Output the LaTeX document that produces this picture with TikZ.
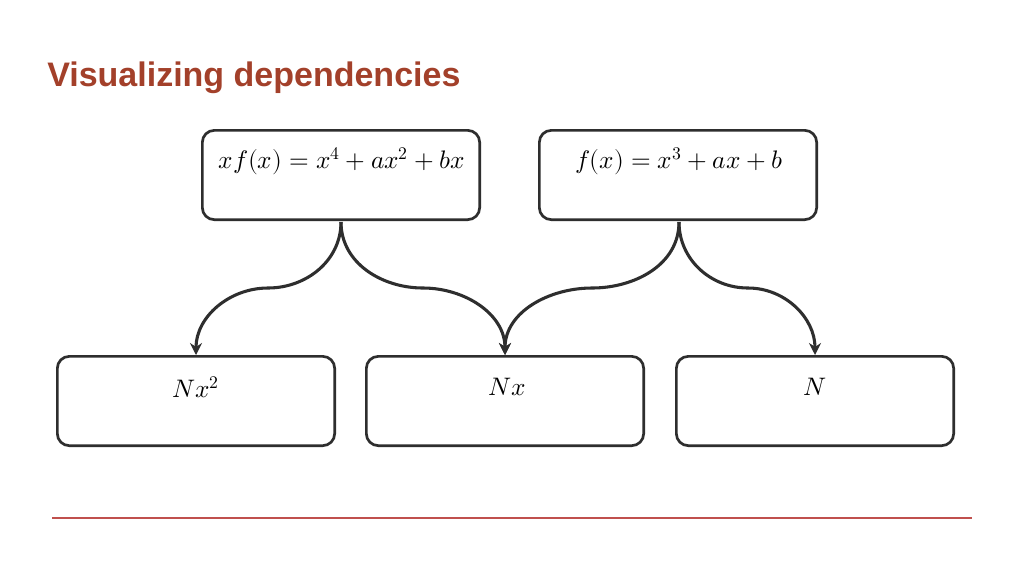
\documentclass[tikz,border=0pt]{standalone}
\usetikzlibrary{arrows.meta}
\usepackage{fontspec}
\setmainfont{Liberation Sans}
\usepackage{unicode-math}
\setmathfont{Latin Modern Math}
\definecolor{titlered}{HTML}{A3402A}
\definecolor{dk}{HTML}{2E2E2E}
\definecolor{rule}{HTML}{C0504D}
\begin{document}
\begin{tikzpicture}[x=0.75pt,y=-0.75pt,
  box/.style={draw=dk,line width=2pt,rounded corners=9pt,minimum width=208pt,minimum height=67pt,anchor=north west,inner sep=0pt},
  lbl/.style={font=\fontsize{19}{22}\selectfont},
  conn/.style={draw=dk,line width=2.3pt,-{Stealth[length=9pt,width=9pt]}}]
\useasboundingbox (0,0) rectangle (1024,576);
\fill[white] (0,0) rectangle (1024,576);
\node[anchor=west,font=\bfseries\fontsize{25.5}{30}\selectfont,text=titlered,inner sep=0pt] (title) at (47,78) {Visualizing dependencies};
\node[box] (t1) at (201,129) {};
\node[box] (t2) at (538,129) {};
\node[box] (b1) at (56,355) {};
\node[box] (b2) at (365,355) {};
\node[box] (b3) at (675,355) {};
\node[lbl] at (342,161) {$xf(x)=x^4+ax^2+bx$};
\node[lbl] at (679,161) {$f(x)=x^3+ax+b$};
\node[lbl] at (196,387) {$Nx^2$};
\node[lbl] at (507,387) {$Nx$};
\node[lbl] at (815,387) {$N$};
\coordinate (s1) at (341,222);
\coordinate (s2) at (679,222);
\draw[conn] (s1) to[out=-90,in=0] (268,288) to[out=180,in=90] (b1.north -| 196,0);
\draw[conn] (s1) to[out=-90,in=180] (423,288) to[out=0,in=90] (b2.north -| 505,0);
\draw[conn] (s2) to[out=-90,in=0] (592,288) to[out=180,in=90] (b2.north -| 505,0);
\draw[conn] (s2) to[out=-90,in=180] (748,288) to[out=0,in=90] (b3.north -| 815,0);
\draw[rule,line width=0.8pt] (52,518) -- (972,518);
\end{tikzpicture}
\end{document}
